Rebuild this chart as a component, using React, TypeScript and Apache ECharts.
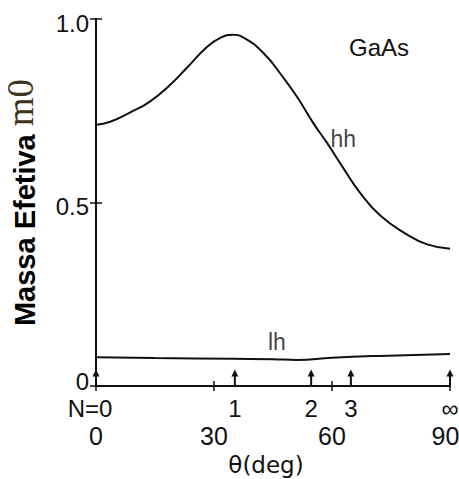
import React, { useEffect, useRef } from "react";
import * as echarts from "echarts";

// Heavy-hole effective mass versus angle θ (deg)
const hhTheta = [0, 3.6, 8.6, 13.7, 18.8, 23.1, 28.2, 31.5, 34.8, 37.4, 42.5, 47.5, 51.1, 55.2, 58.7, 62.8, 67.1, 72.2, 79.0, 84.2, 90];
const hhMass = [0.712, 0.72, 0.745, 0.775, 0.82, 0.867, 0.924, 0.948, 0.957, 0.95, 0.908, 0.842, 0.788, 0.717, 0.663, 0.595, 0.527, 0.465, 0.413, 0.386, 0.374];

// Light-hole effective mass versus angle θ (deg)
const lhTheta = [0, 15, 35, 45, 51, 60, 72, 90];
const lhMass = [0.078, 0.076, 0.074, 0.073, 0.071, 0.077, 0.082, 0.087];

// Directions [1 1 N] marked along the θ axis
const nLabels = ["N=0", "1", "2", "3", "∞"];
const nTheta = [0, 35.3, 54.7, 64.8, 90];

// Curve annotations: [θ, mass, text]
const curveNotes: [number, number, string][] = [
  [58.7, 0.663, "hh"],
  [46, 0.073, "lh"],
];

const yTickLabels: Record<string, string> = { "0": "{lo|0}", "0.5": "{mid|0.5}", "1": "{mid|1.0}" };

const SANS = "'Liberation Sans', Arial, sans-serif";
const WIDE = "'DejaVu Sans', sans-serif";
const SERIF = "'Liberation Serif', 'Times New Roman', serif";
const BLACK = "#111";

export default function App() {
  const ref = useRef<HTMLDivElement>(null);

  useEffect(() => {
    if (!ref.current) return;
    const chart = echarts.init(ref.current, undefined, { renderer: "svg" });

    const axisLine = { show: true, lineStyle: { color: BLACK, width: 2 } };
    const tickStyle = { color: BLACK, width: 1.5 };
    const tickText = { fontSize: 24, color: BLACK, fontFamily: SANS };
    const thetaText = { fontSize: 25, color: BLACK, fontFamily: SANS };

    chart.setOption({
      animation: false,
      backgroundColor: "#fff",
      grid: { left: 96, right: 9, top: 19, bottom: 93, show: false, outerBoundsMode: "none", containLabel: false },
      xAxis: [
        {
          type: "value",
          position: "bottom",
          min: 0,
          max: 90,
          interval: 30,
          axisLine,
          axisTick: { show: true, inside: true, length: 5, lineStyle: tickStyle },
          axisLabel: {
            margin: 37,
            formatter: (v: number) => (v === 90 ? `{end|${v}}` : `{t|${v}}`),
            rich: {
              t: thetaText,
              end: { ...thetaText, padding: [0, 9, 0, 0] },
            },
          },
          splitLine: { show: false },
          name: "θ(deg)",
          nameLocation: "middle",
          nameGap: 67,
          nameTextStyle: { fontSize: 23, color: BLACK, fontFamily: WIDE, padding: [0, 14, 0, 0] },
        },
        {
          type: "value",
          position: "top",
          min: 0,
          max: 90,
          interval: 30,
          axisLine,
          axisTick: { show: true, inside: true, length: 5, lineStyle: tickStyle },
          axisLabel: { show: false },
          splitLine: { show: false },
        },
      ],
      yAxis: [
        {
          type: "value",
          position: "left",
          min: 0,
          max: 1,
          interval: 0.5,
          axisLine,
          axisTick: { show: true, inside: true, length: 6, lineStyle: tickStyle },
          axisLabel: {
            margin: 7,
            formatter: (v: number) => yTickLabels[String(v)] ?? String(v),
            rich: {
              lo: { ...tickText, padding: [0, 0, 10, 0] },
              mid: { ...tickText, padding: [8, 0, 0, 0] },
            },
          },
          splitLine: { show: false },
          name: "{a|Massa Efetiva }{b|m0}",
          nameLocation: "middle",
          nameRotate: 90,
          nameGap: 57,
          nameTextStyle: {
            rich: {
              a: { fontSize: 29, fontWeight: "bold", fontFamily: SANS, color: "#000", verticalAlign: "bottom" },
              b: { fontSize: 37, fontFamily: SERIF, color: "#3d3420", verticalAlign: "bottom" },
            },
          },
        },
        {
          type: "value",
          position: "right",
          min: 0,
          max: 1,
          interval: 0.5,
          axisLine,
          axisTick: { show: true, inside: true, length: 6, lineStyle: tickStyle },
          axisLabel: { show: false },
          splitLine: { show: false },
        },
      ],
      graphic: [
        {
          type: "text",
          left: 349,
          top: 35,
          style: { text: "GaAs", fontSize: 24, fontFamily: SANS, fill: BLACK },
        },
      ],
      series: [
        {
          name: "hh",
          type: "line",
          smooth: 0.5,
          symbol: "none",
          data: hhTheta.map((t, i) => [t, hhMass[i]]),
          lineStyle: { color: BLACK, width: 2 },
        },
        {
          name: "lh",
          type: "line",
          smooth: 0.5,
          symbol: "none",
          data: lhTheta.map((t, i) => [t, lhMass[i]]),
          lineStyle: { color: BLACK, width: 2 },
        },
        {
          name: "notes",
          type: "scatter",
          symbolSize: 1,
          itemStyle: { color: "rgba(0,0,0,0)" },
          data: curveNotes.map(([t, m, txt], i) => ({
            value: [t, m, txt],
            label: {
              show: true,
              formatter: txt,
              position: i === 0 ? "right" : "top",
              distance: i === 0 ? 3 : 5,
              offset: i === 0 ? [0, -4] : [0, 0],
              fontSize: 23,
              fontFamily: SANS,
              color: BLACK,
            },
          })),
        },
        {
          name: "directions",
          type: "custom",
          clip: false,
          data: nTheta.map((t, i) => [t, i]),
          renderItem: (_params: any, api: any) => {
            const theta = api.value(0);
            const idx = api.value(1);
            const base = api.coord([theta, 0]);
            const tip = api.coord([theta, 0.042]);
            return {
              type: "group",
              children: [
                {
                  type: "line",
                  shape: { x1: base[0], y1: base[1], x2: tip[0], y2: tip[1] + 4 },
                  style: { stroke: BLACK, lineWidth: 2 },
                },
                {
                  type: "polygon",
                  shape: {
                    points: [
                      [tip[0], tip[1] - 1],
                      [tip[0] - 3.5, tip[1] + 6],
                      [tip[0] + 3.5, tip[1] + 6],
                    ],
                  },
                  style: { fill: BLACK },
                },
                {
                  type: "text",
                  x: base[0] - (idx === 0 ? 6 : 0),
                  y: base[1] + 10,
                  style: {
                    text: nLabels[idx],
                    align: "center",
                    verticalAlign: "top",
                    fontSize: 24,
                    fontFamily: SANS,
                    fill: BLACK,
                  },
                },
              ],
            };
          },
        },
      ],
    });

    return () => chart.dispose();
  }, []);

  return (
    <div
      ref={ref}
      style={{ position: "fixed", left: 0, top: 0, width: 459, height: 479, background: "#fff" }}
    />
  );
}
